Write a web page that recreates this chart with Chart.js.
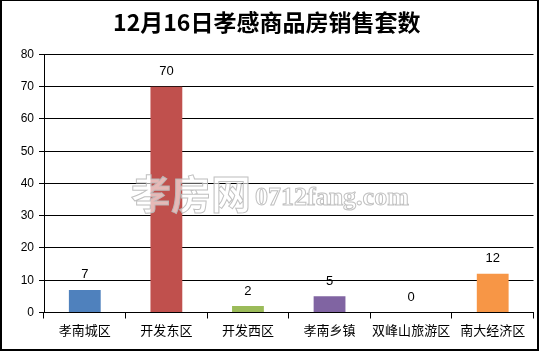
<!DOCTYPE html>
<html>
<head>
<meta charset="utf-8">
<script src="https://cdn.jsdelivr.net/npm/chart.js@4.4.0/dist/chart.umd.min.js"></script>
<style>
  body { margin: 0; background: #fff; }
  #wrap { width: 539px; height: 351px; }
</style>
</head>
<body>
<div id="wrap"><canvas id="myChart" width="539" height="351"></canvas></div>
<script>
// 数据
const titleText = '12月16日孝感商品房销售套数';
const areas = ['孝南城区', '开发东区', '开发西区', '孝南乡镇', '双峰山旅游区', '南大经济区'];
const sales = [7, 70, 2, 5, 0, 12];
const barColors = ['#4F81BD', '#C0504D', '#9BBB59', '#8064A2', '#4BACC6', '#F79646'];
const yTicks = [0, 10, 20, 30, 40, 50, 60, 70, 80];

// 背景和边框
const framePlugin = {
    id: 'frame',
    beforeDraw(chart) {
        const ctx = chart.ctx;
        ctx.save();
        ctx.fillStyle = '#fff';
        ctx.fillRect(0, 0, chart.width, chart.height);
        ctx.restore();
    },
    afterDraw(chart) {
        const ctx = chart.ctx;
        const w = chart.width, h = chart.height;
        ctx.save();
        ctx.fillStyle = '#000';
        ctx.fillRect(0, 0, w, 1);
        ctx.fillRect(0, 0, 2, h);
        ctx.fillRect(w - 2, 0, 2, h);
        ctx.fillRect(0, h - 2, w, 2);
        ctx.restore();
    }
};

// 水印 + 数值标签
const labelPlugin = {
    id: 'valueLabels',
    afterDatasetsDraw(chart) {
        const ctx = chart.ctx;
        ctx.save();
        // 水印
        ctx.lineWidth = 1;
        ctx.strokeStyle = 'rgba(185,185,185,0.9)';
        ctx.fillStyle = 'rgba(255,255,255,0.6)';
        ctx.textBaseline = 'middle';
        ctx.textAlign = 'left';
        ctx.font = 'bold 40px "Noto Sans CJK SC"';
        ctx.fillText('孝房网', 131, 194);
        ctx.strokeText('孝房网', 131, 194);
        ctx.textBaseline = 'alphabetic';
        ctx.font = 'bold 26px "Liberation Serif"';
        ctx.fillText('0712fang.com', 255, 205);
        ctx.strokeText('0712fang.com', 255, 205);

        // 数值
        ctx.fillStyle = '#000';
        ctx.font = '13px "Liberation Sans"';
        ctx.textAlign = 'center';
        ctx.textBaseline = 'middle';
        const meta = chart.getDatasetMeta(0);
        meta.data.forEach((bar, i) => {
            ctx.fillText(String(sales[i]), bar.x, bar.y - 15);
        });
        ctx.restore();
    }
};

const ctx = document.getElementById('myChart').getContext('2d');
const myChart = new Chart(ctx, {
    type: 'bar',
    data: {
        labels: areas,
        datasets: [{
            data: sales,
            backgroundColor: barColors,
            borderWidth: 0,
            barPercentage: 0.39,
            categoryPercentage: 1
        }]
    },
    options: {
        responsive: false,
        animation: false,
        layout: { padding: { left: 0, right: 5.5, top: 0, bottom: 0 } },
        plugins: {
            legend: { display: false },
            tooltip: { enabled: false },
            title: {
                display: true,
                text: titleText,
                color: '#000',
                font: { family: '"Noto Sans CJK SC"', size: 23, weight: 'bold', lineHeight: 1.15 },
                padding: { top: 9, bottom: 19 }
            }
        },
        scales: {
            y: {
                min: 0,
                max: 80,
                afterFit: (s) => { s.width = 44; },
                afterBuildTicks: (s) => { s.ticks = yTicks.map(v => ({ value: v })); },
                ticks: { color: '#000', padding: 5, font: { family: '"Liberation Sans"', size: 12 } },
                grid: { color: '#000', lineWidth: 1, tickLength: 5, drawTicks: true },
                border: { color: '#000', width: 1 }
            },
            x: {
                afterFit: (s) => { s.height = 38.5; },
                ticks: { color: '#000', padding: 4, autoSkip: false, maxRotation: 0, font: { family: '"Noto Sans CJK SC"', size: 13 } },
                grid: { color: '#000', drawOnChartArea: false, tickLength: 6, offset: true },
                border: { color: '#000', width: 1 }
            }
        }
    },
    plugins: [framePlugin, labelPlugin]
});
</script>
</body>
</html>
